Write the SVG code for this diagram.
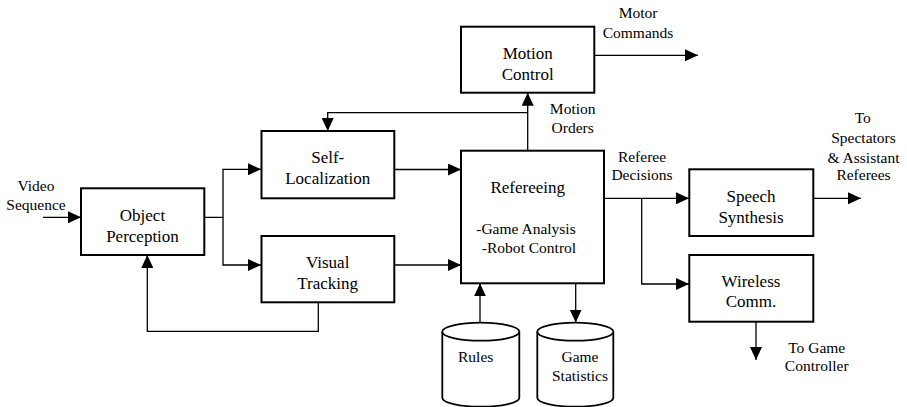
<svg xmlns="http://www.w3.org/2000/svg" width="907" height="407" viewBox="0 0 907 407">
<defs>
<marker id="ah" markerUnits="userSpaceOnUse" markerWidth="13" markerHeight="12" refX="13" refY="6" orient="auto">
<path d="M0,0 L13,6 L0,12 Z" fill="#000"/>
</marker>
<style>
.box{fill:#fff;stroke:#000;stroke-width:2}
.cyl{fill:#fff;stroke:#000;stroke-width:1.8}
.arr{fill:none;stroke:#000;stroke-width:1.3;marker-end:url(#ah)}
text{fill:#000;text-anchor:middle;font-family:"Liberation Serif","Times New Roman",Times,Tinos,"Noto Serif","DejaVu Serif",FreeSerif,serif}
.t{font-size:17px}
.s{font-size:15.5px}
</style>
</defs>
<rect width="907" height="407" fill="#fff"/>
<g id="connectors">
<path class="arr" d="M43,217.3 H81"/>
<path class="arr" d="M204,217.3 H223 V169.3 H261"/>
<path class="arr" d="M223,217.3 V265 H261"/>
<path class="arr" d="M318.3,302 V331.3 H147.3 V255"/>
<path class="arr" d="M394,169.5 H461"/>
<path class="arr" d="M394,265 H461"/>
<path class="arr" d="M527.7,151 V92.7"/>
<path class="arr" d="M527.7,112.7 H327.7 V131"/>
<path class="arr" d="M594,55.3 H698"/>
<path class="arr" d="M604,198.3 H689"/>
<path class="arr" d="M641.7,198.3 V284 H689"/>
<path class="arr" d="M813,198.3 H861"/>
<path class="arr" d="M756,322 V360"/>
<path class="arr" d="M480,322.7 V283.3"/>
<path class="arr" d="M575.7,283.3 V322.5"/>
</g>
<g id="labels">
<text class="s" x="36" y="191">Video</text>
<text class="s" x="36" y="210">Sequence</text>
<text class="s" x="638" y="18.3">Motor</text>
<text class="s" x="638" y="38.3">Commands</text>
<text class="s" x="572.7" y="114">Motion</text>
<text class="s" x="572.7" y="132.7">Orders</text>
<text class="s" x="642" y="161.7">Referee</text>
<text class="s" x="642" y="180">Decisions</text>
<text class="s" x="862.7" y="123.3">To</text>
<text class="s" x="863.5" y="143.3">Spectators</text>
<text class="s" x="863.5" y="162.5">&amp; Assistant</text>
<text class="s" x="863.5" y="180">Referees</text>
<text class="s" x="816.7" y="353.3">To Game</text>
<text class="s" x="816.7" y="370.7">Controller</text>
</g>
<g id="object-perception">
<rect class="box" x="81" y="188.3" width="123.3" height="66.7"/>
<text class="t" x="142.5" y="220.7">Object</text>
<text class="t" x="142.5" y="241.7">Perception</text>
</g>
<g id="self-localization">
<rect class="box" x="261.5" y="131" width="132.8" height="67.3"/>
<text class="t" x="327.7" y="163">Self-</text>
<text class="t" x="327.7" y="184">Localization</text>
</g>
<g id="visual-tracking">
<rect class="box" x="261.5" y="236" width="132.8" height="66.3"/>
<text class="t" x="327.7" y="268">Visual</text>
<text class="t" x="327.7" y="289">Tracking</text>
</g>
<g id="motion-control">
<rect class="box" x="461" y="26.7" width="133.3" height="66"/>
<text class="t" x="527.7" y="59.3">Motion</text>
<text class="t" x="527.7" y="80">Control</text>
</g>
<g id="refereeing">
<rect class="box" x="461" y="150.7" width="143" height="132.6"/>
<text class="t" x="527.7" y="193.3">Refereeing</text>
<text class="s" x="526" y="234.3">-Game Analysis</text>
<text class="s" x="529" y="253.3">-Robot Control</text>
</g>
<g id="speech-synthesis">
<rect class="box" x="689.3" y="169.3" width="124" height="66.7"/>
<text class="t" x="751" y="201.7">Speech</text>
<text class="t" x="751" y="222.7">Synthesis</text>
</g>
<g id="wireless-comm">
<rect class="box" x="689.3" y="255" width="124" height="66.7"/>
<text class="t" x="751" y="286.7">Wireless</text>
<text class="t" x="751" y="306.7">Comm.</text>
</g>
<g id="rules">
<path class="cyl" d="M442.3,331.7 A38.5,9 0 0,1 519.3,331.7 V397.7 A38.5,9 0 0,1 442.3,397.7 Z"/>
<path class="cyl" d="M442.3,331.7 A38.5,9 0 0,0 519.3,331.7" fill="none"/>
<text class="s" x="475.7" y="361.7">Rules</text>
</g>
<g id="game-statistics">
<path class="cyl" d="M537.3,331.7 A38,9 0 0,1 613.3,331.7 V397.7 A38,9 0 0,1 537.3,397.7 Z"/>
<path class="cyl" d="M537.3,331.7 A38,9 0 0,0 613.3,331.7" fill="none"/>
<text class="s" x="580" y="361.7">Game</text>
<text class="s" x="580" y="380.7">Statistics</text>
</g>
</svg>
